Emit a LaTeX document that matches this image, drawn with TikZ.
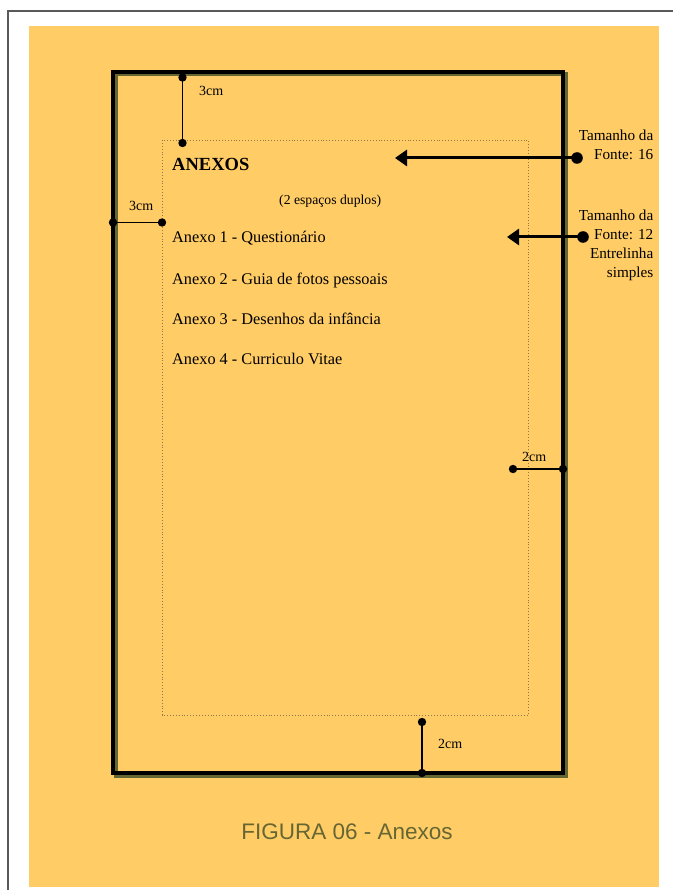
\documentclass[tikz,border=0pt]{standalone}
\usepackage{fontspec}
\setmainfont{Liberation Serif}
\newfontfamily\capfont{Liberation Sans}
\usetikzlibrary{arrows.meta}
\definecolor{bgorange}{HTML}{FFCC66}
\definecolor{olivec}{HTML}{666633}
\definecolor{dotc}{HTML}{8C7A4A}
\tikzset{
  dimline/.style={line width=1.4pt, black},
  dimdot/.style={fill=black},
  dimtext/.style={font=\fontsize{14}{16}\selectfont, anchor=base west, inner sep=0pt},
  bodytext/.style={font=\fontsize{16.3}{18}\selectfont, anchor=base west, inner sep=0pt},
  notetext/.style={font=\fontsize{15.2}{19}\selectfont, align=right, anchor=base east, inner sep=0pt},
  bigarrow/.style={line width=3pt, -{Triangle[length=12pt,width=16pt]}},
}
\begin{document}
\begin{tikzpicture}[x=1pt,y=-1pt]
\useasboundingbox (0,0) rectangle (672,890);
\fill[white] (0,0) rectangle (672,890);
% outer gray frame
\draw[black!65, line width=2pt] (8,900) -- (8,11) -- (690,11);
% orange background
\fill[bgorange] (29,26) rectangle (659,887);
% page frame with shadow
\draw[olivec, line width=4pt] (115.5,74.5) rectangle (565.5,775.5);
\draw[black, line width=4pt] (113,72) rectangle (563,773);
% text area (dotted)
\draw[dotc, dotted, line width=0.9pt] (162,140) rectangle (528,715);

% dimension coordinates
\coordinate (tA) at (182.5,77.5);
\coordinate (tB) at (182.5,143);
\coordinate (lA) at (113,222.5);
\coordinate (lB) at (162,222.5);
\coordinate (rA) at (513,469);
\coordinate (rB) at (563,469);
\coordinate (bA) at (422,722);
\coordinate (bB) at (422,773);

\draw[dimline] (tA) -- (tB);
\draw[dimline] (lA) -- (lB);
\draw[dimline] (rA) -- (rB);
\draw[dimline] (bA) -- (bB);
\foreach \p in {tA,tB,lA,lB,rA,rB,bA,bB} \fill[dimdot] (\p) circle (4.2);

\node[dimtext] (tT) at (199,96) {3cm};
\node[dimtext] (lT) at (129,211) {3cm};
\node[dimtext] (rT) at (522,461) {2cm};
\node[dimtext] (bT) at (438,748) {2cm};

% content text
\node[font=\fontsize{18.5}{20}\selectfont\bfseries, anchor=base west, inner sep=0pt] (anexos) at (172,171) {ANEXOS};
\node[font=\fontsize{13.7}{16}\selectfont, anchor=base west, inner sep=0pt] (esp) at (279,205) {(2 espaços duplos)};
\node[bodytext] (a1) at (172,243) {Anexo 1 - Questionário};
\node[bodytext] (a2) at (172,284) {Anexo 2 - Guia de fotos pessoais};
\node[bodytext] (a3) at (172,324.5) {Anexo 3 - Desenhos da infância};
\node[bodytext] (a4) at (172,364.5) {Anexo 4 - Curriculo Vitae};

% annotation arrows
\coordinate (s1) at (577,158);
\coordinate (e1) at (395,158);
\coordinate (s2) at (583,237);
\coordinate (e2) at (507,237);
\draw[bigarrow] (s1) -- (e1);
\draw[bigarrow] (s2) -- (e2);
\fill (s1) circle (5.8);
\fill (s2) circle (5.8);

\node[notetext] (n1) at (653.5,160) {Tamanho da\\Fonte: 16};
\node[notetext] (n2) at (653.5,277) {Tamanho da\\Fonte: 12\\Entrelinha\\simples};

% caption
\node[font=\capfont\fontsize{22.5}{24}\selectfont, text=olivec, anchor=base, inner sep=0pt] (cap) at (347,839) {FIGURA 06 - Anexos};
\end{tikzpicture}
\end{document}
